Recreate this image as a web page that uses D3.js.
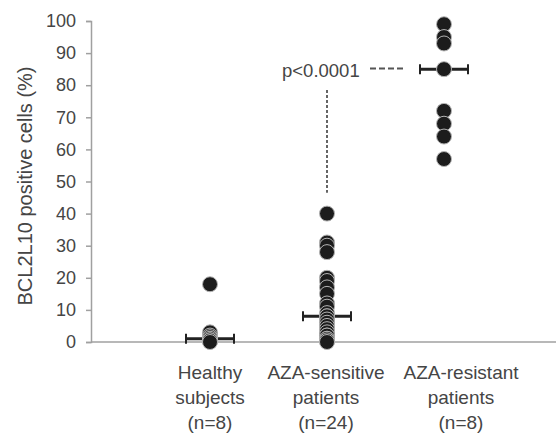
<!DOCTYPE html>
<html>
<head>
<meta charset="utf-8">
<script src="https://cdn.jsdelivr.net/npm/d3@7"></script>
<style>
  body { margin: 0; background: #fff; }
  text { font-family: "Liberation Sans", Arial, sans-serif; }
</style>
</head>
<body>
<svg id="chart" width="556" height="439"></svg>
<script>
// Groups and their labels (multi-line)
const groups = ["healthy", "sensitive", "resistant"];
const groupLabels = [
  ["Healthy", "subjects", "(n=8)"],
  ["AZA-sensitive", "patients", "(n=24)"],
  ["AZA-resistant", "patients", "(n=8)"]
];

// Per-patient values (%)
const healthyValues = [18, 3, 2, 1.5, 1, 0.5, 0.5, 0];
const sensitiveValues = [40, 31, 30, 28, 20, 19, 17, 15, 12, 11, 9, 8, 8, 7, 6, 5, 4, 3, 2, 2, 1, 1, 0.5, 0];
const resistantValues = [99, 95, 93, 85, 72, 68, 64, 57];
const medians = [1, 8, 85];

const yTicks = [0, 10, 20, 30, 40, 50, 60, 70, 80, 90, 100];
const pLabel = "p<0.0001";

// Layout
const width = 556;
const height = 439;
const margin = { top: 21, right: 0, bottom: 97, left: 91 };

const svg = d3.select("#chart");

const y = d3.scaleLinear()
  .domain([0, 100])
  .range([height - margin.bottom, margin.top]);

const x = d3.scalePoint()
  .domain(groups)
  .range([210, 444]);

const axisColor = "#a0a0a0";
const textColor = "#454545";

// y axis
const yAxis = d3.axisLeft(y).tickValues(yTicks).tickSize(5).tickPadding(10);
const gy = svg.append("g")
  .attr("transform", `translate(${margin.left},0)`)
  .call(yAxis);
gy.select(".domain").attr("stroke", axisColor).attr("stroke-width", 1.5);
gy.selectAll(".tick line").attr("stroke", axisColor).attr("stroke-width", 1.5);
gy.selectAll(".tick text")
  .attr("fill", textColor)
  .style("font-size", "18px")
  .style("font-family", "'Liberation Sans', Arial, sans-serif");

// x axis baseline
svg.append("line")
  .attr("x1", margin.left)
  .attr("x2", width - margin.right)
  .attr("y1", y(0))
  .attr("y2", y(0))
  .attr("stroke", axisColor)
  .attr("stroke-width", 1.5);

// y title
svg.append("text")
  .attr("transform", "translate(32, 186) rotate(-90)")
  .attr("text-anchor", "middle")
  .attr("fill", textColor)
  .style("font-size", "20px")
  .text("BCL2L10 positive cells (%)");

// x category labels (the last label sits a bit right of its column in the original)
const labelShift = { healthy: 0, sensitive: -1, resistant: 17 };
groups.forEach((g, i) => {
  const t = svg.append("text")
    .attr("text-anchor", "middle")
    .attr("fill", textColor)
    .style("font-size", "19px");
  groupLabels[i].forEach((line, j) => {
    t.append("tspan")
      .attr("x", x(g) + labelShift[g])
      .attr("y", 379 + j * 25)
      .text(line);
  });
});

// median bars with caps
const half = 24;
const bars = svg.append("g").attr("class", "medians");
groups.forEach((g, i) => {
  const cx = x(g);
  const cy = y(medians[i]);
  bars.append("line")
    .attr("x1", cx - half).attr("x2", cx + half)
    .attr("y1", cy).attr("y2", cy)
    .attr("stroke", "#222").attr("stroke-width", 3);
  [cx - half, cx + half].forEach(ex => {
    bars.append("line")
      .attr("x1", ex).attr("x2", ex)
      .attr("y1", cy - 5).attr("y2", cy + 5)
      .attr("stroke", "#222").attr("stroke-width", 2);
  });
});

// dots
const allPoints = [
  ...healthyValues.map(v => ({ g: "healthy", v })),
  ...sensitiveValues.map(v => ({ g: "sensitive", v })),
  ...resistantValues.map(v => ({ g: "resistant", v }))
];
svg.append("g")
  .selectAll("circle")
  .data(allPoints)
  .enter()
  .append("circle")
  .attr("cx", d => x(d.g))
  .attr("cy", d => y(d.v))
  .attr("r", 7.5)
  .attr("fill", "#1c1c1c")
  .attr("stroke", "#b5b5b5")
  .attr("stroke-width", 1);

// significance annotation
svg.append("text")
  .attr("x", 282)
  .attr("y", 77)
  .attr("fill", textColor)
  .style("font-size", "18.5px")
  .text(pLabel);

svg.append("line")
  .attr("x1", 370).attr("x2", 403)
  .attr("y1", 68.5).attr("y2", 68.5)
  .attr("stroke", "#555")
  .attr("stroke-width", 2)
  .attr("stroke-dasharray", "6,3");

svg.append("line")
  .attr("x1", x("sensitive")).attr("x2", x("sensitive"))
  .attr("y1", 90).attr("y2", y(46.5))
  .attr("stroke", "#555")
  .attr("stroke-width", 1.8)
  .attr("stroke-dasharray", "3,2");
</script>
</body>
</html>
